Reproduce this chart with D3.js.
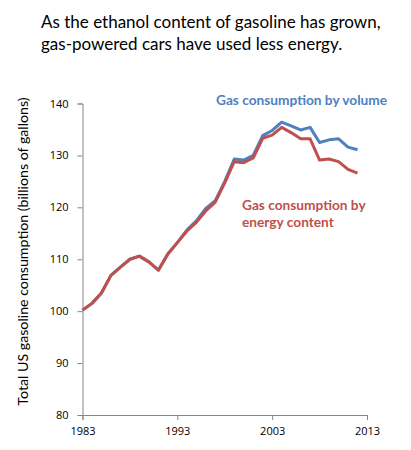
<!DOCTYPE html>
<html>
<head>
<meta charset="utf-8">
<script src="https://cdn.jsdelivr.net/npm/d3@7"></script>
<style>
  body { margin: 0; background: #fff; }
  svg { display: block; }
</style>
</head>
<body>
<svg id="chart"></svg>
<script>
const years = d3.range(1983, 2013);

// billions of gallons, by volume
const byVolume = [
    100.2, 101.5, 103.5, 106.9, 108.5, 110.0, 110.6, 109.5, 107.9, 111.0,
    113.2, 115.6, 117.4, 119.8, 121.3, 125.0, 129.3, 129.1, 130.0, 133.8,
    134.8, 136.4, 135.7, 134.9, 135.4, 132.5, 133.0, 133.2, 131.6, 131.1
];

// gasoline-equivalent, by energy content
const byEnergy = [
    100.2, 101.5, 103.5, 106.9, 108.5, 110.0, 110.6, 109.5, 107.9, 111.0,
    113.2, 115.4, 117.1, 119.3, 121.0, 124.7, 128.8, 128.6, 129.5, 133.3,
    133.9, 135.4, 134.4, 133.2, 133.2, 129.1, 129.3, 128.8, 127.3, 126.6
];

const xTicks = [1983, 1993, 2003, 2013];
const yTicks = [80, 90, 100, 110, 120, 130, 140];

const titleLines = [
    "As the ethanol content of gasoline has grown,",
    "gas-powered cars have used less energy."
];

const width = 411;
const height = 450;
const axisColor = "#868686";
const blue = "#4F81BD";
const red = "#C0504D";

const svg = d3.select("#chart")
    .attr("width", width)
    .attr("height", height);

const x = d3.scaleLinear().domain([1983, 2013]).range([82.5, 367]);
const y = d3.scaleLinear().domain([80, 140]).range([415, 103.5]);

// Title
svg.append("g")
    .selectAll("text")
    .data(titleLines)
    .join("text")
    .attr("x", 41)
    .attr("y", (d, i) => 28 + i * 22)
    .attr("font-family", "Lato, sans-serif")
    .attr("font-size", 17)
    .attr("fill", "#000")
    .text(d => d);

// Axes
const yAxis = svg.append("g")
    .attr("transform", `translate(${x(1983)},0)`)
    .call(d3.axisLeft(y).tickValues(yTicks).tickSize(5).tickPadding(9));

const xAxis = svg.append("g")
    .attr("transform", `translate(0,${y(80)})`)
    .call(d3.axisBottom(x).tickValues(xTicks).tickFormat(d3.format("d")).tickSize(5).tickPadding(7));

[yAxis, xAxis].forEach(a => {
    a.select(".domain").attr("stroke", axisColor);
    a.selectAll(".tick line").attr("stroke", axisColor);
    a.selectAll(".tick text")
        .attr("fill", "#000")
        .attr("font-family", "'Open Sans', sans-serif")
        .attr("font-size", 11);
});

// Y axis title
svg.append("text")
    .attr("transform", `translate(28,${(95 + 408) / 2}) rotate(-90)`)
    .attr("text-anchor", "middle")
    .attr("font-family", "Lato, sans-serif")
    .attr("font-size", 14.2)
    .attr("fill", "#000")
    .text("Total US gasoline consumption (billions of gallons)");

// Lines
const line = d3.line()
    .x((d, i) => x(years[i]))
    .y(d => y(d));

svg.append("path")
    .datum(byVolume)
    .attr("fill", "none")
    .attr("stroke", blue)
    .attr("stroke-width", 3)
    .attr("stroke-linejoin", "round")
    .attr("d", line);

svg.append("path")
    .datum(byEnergy)
    .attr("fill", "none")
    .attr("stroke", red)
    .attr("stroke-width", 3)
    .attr("stroke-linejoin", "round")
    .attr("d", line);

// Labels
svg.append("text")
    .attr("x", 216)
    .attr("y", 105)
    .attr("font-family", "Lato, sans-serif")
    .attr("font-weight", "bold")
    .attr("font-size", 13.7)
    .attr("fill", blue)
    .text("Gas consumption by volume");

svg.append("text")
    .attr("font-family", "Lato, sans-serif")
    .attr("font-weight", "bold")
    .attr("font-size", 13.7)
    .attr("fill", red)
    .selectAll("tspan")
    .data(["Gas consumption by", "energy content"])
    .join("tspan")
    .attr("x", 242)
    .attr("y", (d, i) => 210 + i * 17)
    .text(d => d);
</script>
</body>
</html>
